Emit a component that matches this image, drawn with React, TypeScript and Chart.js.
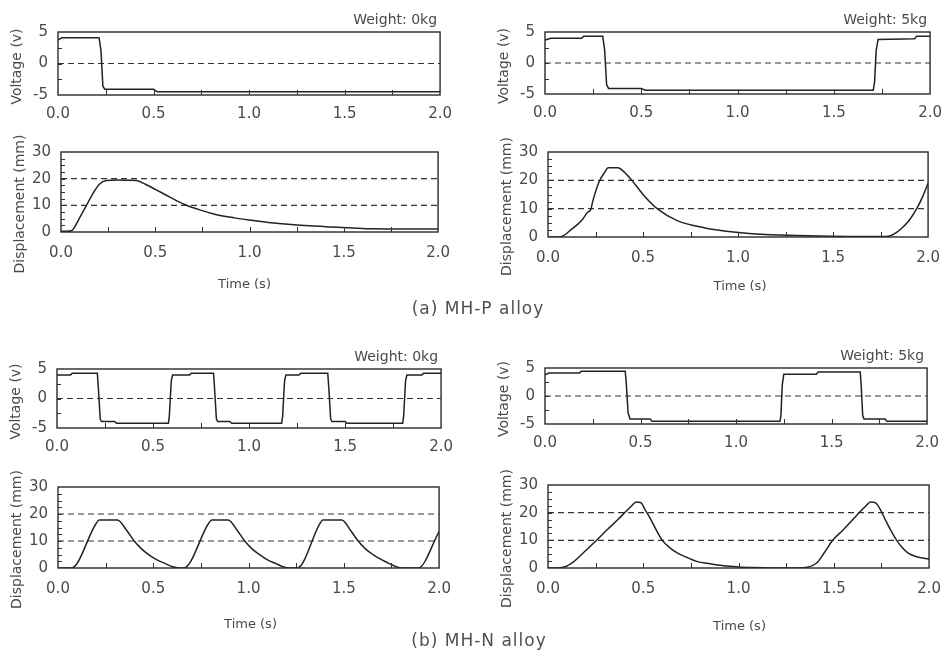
import React, { useEffect, useRef } from 'react';
import { Chart, registerables } from 'chart.js';
Chart.register(...registerables);

// ---------- data ----------
const xLabelValues = [0, 0.5, 1.0, 1.5, 2.0];
const voltLabelValues = [5, 0, -5];
const dispLabelValues = [0, 10, 20, 30];
const voltRefLevels = [0];
const dispRefLevels = [10, 20];

// (a) MH-P alloy, 0 kg
const aP0VoltT = [0, 0.01, 0.02, 0.215, 0.225, 0.235, 0.245, 0.5, 0.52, 2.0];
const aP0VoltV = [3.7, 3.9, 4.1, 4.1, 2.0, -3.6, -4.1, -4.1, -4.5, -4.5];
const aP0DispT = [0, 0.03, 0.056, 0.1, 0.135, 0.17, 0.205, 0.24, 0.3, 0.4, 0.45, 0.5, 0.58, 0.66, 0.74, 0.82, 0.92, 1.01, 1.1, 1.22, 1.32, 1.43, 1.55, 1.66, 1.8, 2.0];
const aP0DispV = [0.3, 0.3, 0.5, 5.5, 10, 14.5, 18, 19.3, 19.5, 19.3, 17.8, 16, 13, 10.2, 8.2, 6.6, 5.3, 4.4, 3.6, 2.8, 2.3, 1.9, 1.5, 1.2, 1.1, 1.1];

// (a) MH-P alloy, 5 kg
const aP5VoltT = [0, 0.01, 0.03, 0.19, 0.2, 0.3, 0.31, 0.32, 0.33, 0.5, 0.52, 1.705, 1.712, 1.72, 1.73, 1.92, 1.93, 2.0];
const aP5VoltV = [3.7, 3.8, 4.0, 4.0, 4.3, 4.3, 2.0, -3.5, -4.1, -4.1, -4.4, -4.4, -3.0, 2.0, 3.8, 3.9, 4.3, 4.3];
const aP5DispT = [0, 0.04, 0.073, 0.12, 0.177, 0.21, 0.225, 0.235, 0.27, 0.3, 0.316, 0.368, 0.4, 0.4375, 0.507, 0.576, 0.68, 0.82, 0.99, 1.17, 1.43, 1.6, 1.78, 1.82, 1.86, 1.9, 1.94, 1.97, 2.0];
const aP5DispV = [0, 0, 0.2, 2.5, 5.8, 8.8, 9.6, 12.5, 19.7, 23, 24.4, 24.4, 23, 20.3, 14.5, 9.9, 5.8, 3.3, 1.7, 0.8, 0.35, 0.2, 0.2, 1.0, 3.0, 5.8, 10, 14, 19];

// (b) MH-N alloy, 0 kg
const bN0VoltT = [0, 0.07, 0.08, 0.21, 0.215, 0.225, 0.232, 0.3, 0.31, 0.58, 0.585, 0.595, 0.602, 0.69, 0.7, 0.815, 0.82, 0.83, 0.837, 0.9, 0.91, 1.17, 1.175, 1.185, 1.192, 1.26, 1.27, 1.41, 1.415, 1.425, 1.432, 1.5, 1.51, 1.8, 1.805, 1.815, 1.822, 1.9, 1.91, 2.0];
const bN0VoltV = [4.0, 4.0, 4.3, 4.3, 2.0, -3.5, -3.9, -3.9, -4.2, -4.2, -3.0, 3.0, 4.0, 4.0, 4.3, 4.3, 2.0, -3.5, -3.9, -3.9, -4.2, -4.2, -3.0, 3.0, 4.0, 4.0, 4.3, 4.3, 2.0, -3.5, -3.9, -3.9, -4.2, -4.2, -3.0, 3.0, 4.0, 4.0, 4.3, 4.3];
const bN0DispT = [0, 0.07, 0.2, 0.217, 0.312, 0.36, 0.4, 0.44, 0.477, 0.52, 0.564, 0.6, 0.63, 0.66, 0.79, 0.807, 0.893, 0.94, 0.98, 1.02, 1.06, 1.1, 1.145, 1.18, 1.21, 1.255, 1.375, 1.39, 1.49, 1.535, 1.575, 1.615, 1.655, 1.7, 1.74, 1.775, 1.8, 1.89, 2.0];
const bN0DispV = [0, 0, 16.5, 17.8, 17.8, 14, 10, 7, 4.9, 3, 1.6, 0.5, 0, 0, 16.5, 17.8, 17.8, 14, 10, 7, 4.9, 3, 1.6, 0.5, 0, 0, 16.5, 17.8, 17.8, 14, 10, 7, 4.9, 3, 1.6, 0.5, 0, 0, 13.5];

// (b) MH-N alloy, 5 kg
const bN5VoltT = [0, 0.02, 0.18, 0.19, 0.42, 0.425, 0.435, 0.445, 0.55, 0.56, 1.23, 1.235, 1.242, 1.25, 1.42, 1.43, 1.65, 1.655, 1.663, 1.67, 1.78, 1.79, 2.0];
const bN5VoltV = [3.8, 4.1, 4.1, 4.4, 4.4, 2.5, -3.0, -4.1, -4.1, -4.5, -4.5, -3.5, 2.0, 3.9, 3.9, 4.3, 4.3, 2.0, -3.5, -4.1, -4.1, -4.5, -4.5];
const bN5DispT = [0, 0.073, 0.125, 0.19, 0.255, 0.31, 0.367, 0.41, 0.437, 0.463, 0.489, 0.51, 0.54, 0.57, 0.6, 0.64, 0.68, 0.73, 0.78, 0.85, 0.92, 1.0, 1.08, 1.25, 1.34, 1.41, 1.45, 1.494, 1.55, 1.6, 1.64, 1.667, 1.693, 1.72, 1.745, 1.77, 1.8, 1.83, 1.86, 1.89, 1.94, 2.0];
const bN5DispV = [0, 0.2, 1.8, 5.8, 10, 13.8, 17.5, 20.5, 22.3, 23.9, 23.5, 21, 17.5, 13.5, 10, 7.3, 5.4, 3.8, 2.4, 1.5, 0.8, 0.4, 0.2, 0, 0.1, 1.8, 5.5, 10, 13.8, 17.5, 20.5, 22.3, 23.9, 23.5, 21, 17.5, 13.5, 10, 7.3, 5.4, 4.0, 3.2];

// ---------- layout ----------
type Panel = {
  kind: 'v' | 'd';
  l: number; t: number; r: number; b: number;
  xs: number[]; ys: number[];
  weight?: string;
  xTitleDx?: number; xTitleDy?: number;
};

const panels: Panel[] = [
  { kind: 'v', l: 58, t: 32, r: 442, b: 95, xs: aP0VoltT, ys: aP0VoltV, weight: 'Weight: 0kg' },
  { kind: 'd', l: 61, t: 152, r: 442, b: 232, xs: aP0DispT, ys: aP0DispV, xTitleDx: -5, xTitleDy: 53 },
  { kind: 'v', l: 545, t: 32, r: 932, b: 94, xs: aP5VoltT, ys: aP5VoltV, weight: 'Weight: 5kg' },
  { kind: 'd', l: 548, t: 152, r: 932, b: 237, xs: aP5DispT, ys: aP5DispV, xTitleDx: 2, xTitleDy: 50 },
  { kind: 'v', l: 57, t: 369, r: 443, b: 428, xs: bN0VoltT, ys: bN0VoltV, weight: 'Weight: 0kg' },
  { kind: 'd', l: 58, t: 487, r: 443, b: 568, xs: bN0DispT, ys: bN0DispV, xTitleDx: 2, xTitleDy: 57 },
  { kind: 'v', l: 545, t: 368, r: 929, b: 424, xs: bN5VoltT, ys: bN5VoltV, weight: 'Weight: 5kg' },
  { kind: 'd', l: 548, t: 485, r: 933, b: 568, xs: bN5DispT, ys: bN5DispV, xTitleDx: 1, xTitleDy: 59 },
];

const FONT = '"DejaVu Sans", "Noto Sans", sans-serif';
const TEXT = '#4a4a4a';
const LINE = '#222';

const decorPlugin = {
  id: 'decor',
  afterDatasetsDraw(chart: any, _args: any, opts: any) {
    const { ctx, chartArea: a, scales } = chart;
    const xs = scales.x;
    const ys = scales.y;
    ctx.save();
    ctx.strokeStyle = '#333';
    ctx.lineWidth = 1;
    ctx.beginPath();
    xs.ticks.forEach((tk: any) => {
      const px = Math.round(xs.getPixelForValue(tk.value)) + 0.5;
      if (px > a.left + 2 && px < a.right - 2) {
        ctx.moveTo(px, a.bottom);
        ctx.lineTo(px, a.bottom - 5);
      }
    });
    ys.ticks.forEach((tk: any) => {
      const py = Math.round(ys.getPixelForValue(tk.value)) + 0.5;
      if (py > a.top + 2 && py < a.bottom - 2) {
        ctx.moveTo(a.left, py);
        ctx.lineTo(a.left + 4, py);
      }
    });
    ctx.stroke();
    ctx.lineWidth = 1.4;
    ctx.strokeStyle = '#2a2a2a';
    ctx.strokeRect(a.left, a.top, a.right - a.left, a.bottom - a.top);

    ctx.fillStyle = TEXT;
    ctx.font = '14px ' + FONT;
    ctx.textBaseline = 'middle';
    if (opts.weight) {
      ctx.textAlign = 'right';
      ctx.fillText(opts.weight, a.right - 3, a.top - 12);
    }
    if (opts.xTitle) {
      ctx.textAlign = 'center';
      ctx.font = '13px ' + FONT;
      ctx.fillText(opts.xTitle, (a.left + a.right) / 2 + (opts.xTitleDx || 0), a.bottom + (opts.xTitleDy || 0));
    }
    ctx.font = '14px ' + FONT;
    ctx.translate(a.left - 41, (a.top + a.bottom) / 2 + (opts.yTitleDy || 0));
    ctx.rotate(-Math.PI / 2);
    ctx.textAlign = 'center';
    ctx.fillText(opts.yTitle, 0, 0);
    ctx.restore();
  },
};

function isLabel(v: number, list: number[]) {
  return list.some((x) => Math.abs(x - v) < 1e-6);
}

function PanelChart({ p }: { p: Panel }) {
  const ref = useRef<HTMLCanvasElement>(null);
  const isV = p.kind === 'v';
  const PT = isV ? 30 : 45;
  const XB = isV ? 40 : 72;
  const YW = 60;
  const PR = 20;
  const W = p.r - p.l + YW + PR;
  const H = PT + (p.b - p.t) + XB;
  const left = p.l - YW;
  const top = p.t - PT;

  useEffect(() => {
    const refs = isV ? voltRefLevels : dispRefLevels;
    const datasets: any[] = [
      {
        data: p.xs.map((x, i) => ({ x, y: p.ys[i] })),
        borderColor: LINE,
        borderWidth: 1.5,
        pointRadius: 0,
        tension: 0,
        cubicInterpolationMode: isV ? 'default' : 'monotone',
        fill: false,
      },
      ...refs.map((lv) => ({
        data: [{ x: 0, y: lv }, { x: 2, y: lv }],
        borderColor: '#333',
        borderWidth: 1.2,
        borderDash: [6, 4],
        pointRadius: 0,
        fill: false,
      })),
    ];
    const chart = new Chart(ref.current!, {
      type: 'line',
      data: { datasets },
      plugins: [decorPlugin as any],
      options: {
        animation: false,
        responsive: false,
        maintainAspectRatio: false,
        devicePixelRatio: 1,
        layout: { padding: { top: PT, right: PR, left: 0, bottom: 0 } },
        plugins: {
          legend: { display: false },
          tooltip: { enabled: false },
          decor: {
            weight: p.weight,
            yTitle: isV ? 'Voltage (v)' : 'Displacement (mm)',
            yTitleDy: isV ? 3 : 12,
            xTitle: isV ? '' : 'Time (s)',
            xTitleDx: p.xTitleDx,
            xTitleDy: p.xTitleDy,
          },
        } as any,
        scales: {
          x: {
            type: 'linear',
            min: 0,
            max: 2,
            grid: { display: false, drawTicks: false },
            border: { display: false },
            ticks: {
              stepSize: 0.25,
              autoSkip: false,
              maxRotation: 0,
              padding: isV ? 10 : 12,
              color: TEXT,
              font: { family: FONT, size: 15 },
              callback: (v: any) => (isLabel(Number(v), xLabelValues) ? Number(v).toFixed(1) : ''),
            },
            afterFit: (s: any) => {
              s.height = XB;
            },
          },
          y: {
            type: 'linear',
            min: isV ? -5 : 0,
            max: isV ? 5 : 30,
            grid: { display: false, drawTicks: false },
            border: { display: false },
            ticks: {
              stepSize: 2.5,
              autoSkip: false,
              padding: 10,
              color: TEXT,
              font: { family: FONT, size: 15 },
              callback: (v: any) =>
                isLabel(Number(v), isV ? voltLabelValues : dispLabelValues) ? String(Number(v)) : '',
            },
            afterFit: (s: any) => {
              s.width = YW;
            },
          },
        },
      },
    });
    return () => chart.destroy();
  }, []);

  return (
    <canvas
      ref={ref}
      width={W}
      height={H}
      style={{ position: 'absolute', left, top, width: W, height: H }}
    />
  );
}

const captionStyle: React.CSSProperties = {
  position: 'absolute',
  width: 240,
  textAlign: 'center',
  fontFamily: FONT,
  fontSize: 17,
  letterSpacing: 1,
  lineHeight: '20px',
  color: '#505050',
};

export default function App() {
  return (
    <div style={{ position: 'absolute', left: 0, top: 0, width: 944, height: 656, background: '#fff', overflow: 'hidden' }}>
      {panels.map((p, i) => (
        <PanelChart key={i} p={p} />
      ))}
      <div style={{ ...captionStyle, left: 478 - 120, top: 298 }}>(a) MH-P alloy</div>
      <div style={{ ...captionStyle, left: 479 - 120, top: 630 }}>(b) MH-N alloy</div>
    </div>
  );
}
